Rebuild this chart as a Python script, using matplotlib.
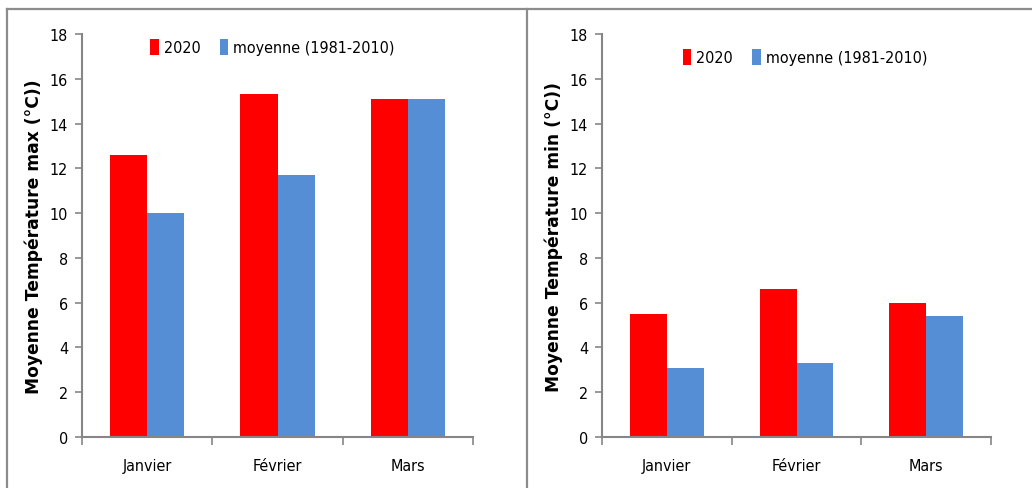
import matplotlib
matplotlib.use("Agg")
import matplotlib.pyplot as plt
import numpy as np
from matplotlib.lines import Line2D

months = ["Janvier", "Février", "Mars"]
tmax_2020 = [12.6, 15.3, 15.1]
tmax_normal = [10.0, 11.7, 15.1]
tmin_2020 = [5.5, 6.6, 6.0]
tmin_normal = [3.1, 3.3, 5.4]
series_labels = ["2020", "moyenne (1981-2010)"]
ylabels = ["Moyenne Température max (°C))", "Moyenne Température min (°C))"]
yticks = [0, 2, 4, 6, 8, 10, 12, 14, 16, 18]

RED = "#ff0000"
BLUE = "#558ed5"
AXIS = "#868686"

W, H = 1032, 489
fig = plt.figure(figsize=(W / 100, H / 100), dpi=100)

tick_font = dict(family="DejaVu Sans", stretch="condensed", size=11.5)

def px_axes(x0, x1, y0, y1):
    return fig.add_axes([x0 / W, 1 - y1 / H, (x1 - x0) / W, (y1 - y0) / H])

panels = [
    (82, 473, tmax_2020, tmax_normal, ylabels[0], (0.264, 0.902)),
    (602, 991, tmin_2020, tmin_normal, ylabels[1], (0.78, 0.881)),
]

bw = 0.285
x = np.arange(len(months))
for x0, x1, a, b, ylab, leg_pos in panels:
    ax = px_axes(x0, x1, 35, 438)
    r = ax.bar(x - bw / 2, a, width=bw, color=RED, label=series_labels[0])
    bl = ax.bar(x + bw / 2, b, width=bw, color=BLUE, label=series_labels[1])
    ax.set_xlim(-0.5, 2.5)
    ax.set_ylim(0, 18)
    ax.set_yticks(yticks)
    ax.set_yticklabels([str(t) for t in yticks], fontdict=tick_font)
    ax.set_xticks([-0.5, 0.5, 1.5, 2.5])
    ax.set_xticklabels([])
    ax.set_xticks(x, minor=True)
    ax.set_xticklabels(months, minor=True, fontdict=tick_font)
    ax.tick_params(axis="x", which="minor", length=0, pad=15)
    ax.tick_params(axis="x", which="major", length=6, color=AXIS, width=1.2)
    ax.tick_params(axis="y", length=5, color=AXIS, width=1.2, pad=5)
    for s in ["top", "right"]:
        ax.spines[s].set_visible(False)
    for s in ["left", "bottom"]:
        ax.spines[s].set_color(AXIS)
        ax.spines[s].set_linewidth(1.5)
    ax.set_ylabel(ylab, fontfamily="DejaVu Sans", fontweight="bold", fontsize=12.3)
    ax.yaxis.set_label_coords(-0.1, 0.5)
    fig.legend(handles=[r, bl], labels=series_labels, loc="center",
               bbox_to_anchor=leg_pos, ncol=2, frameon=False,
               prop=dict(family="DejaVu Sans", stretch="condensed", size=11.5),
               handlelength=0.55, handleheight=1.2, handletextpad=0.3,
               columnspacing=1.2)

# panel frames
lc = "#8c8c8c"
fig.add_artist(Line2D([7 / W, 1], [1 - 10 / H, 1 - 10 / H], color=lc, lw=1.6))
fig.add_artist(Line2D([7 / W, 7 / W], [0, 1 - 10 / H], color=lc, lw=1.6))
fig.add_artist(Line2D([527 / W, 527 / W], [0, 1 - 10 / H], color=lc, lw=1.6))

fig.savefig("out.png", dpi=100)
